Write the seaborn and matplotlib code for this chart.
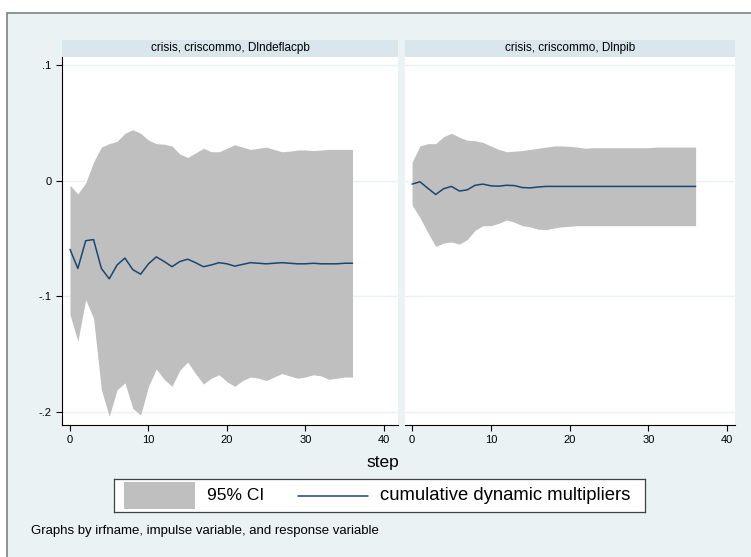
import numpy as np
import pandas as pd
import seaborn as sns
import matplotlib.pyplot as plt
from matplotlib.patches import Rectangle

steps = list(range(37))

defl_irf = [-0.0595, -0.076, -0.052, -0.051, -0.076, -0.085, -0.073, -0.067, -0.077, -0.081,
            -0.072, -0.066, -0.070, -0.0745, -0.070, -0.068, -0.071, -0.0745, -0.073, -0.071,
            -0.072, -0.074, -0.0725, -0.071, -0.0715, -0.072, -0.0715, -0.071, -0.0715, -0.072,
            -0.072, -0.0715, -0.072, -0.072, -0.072, -0.0715, -0.0715]
defl_upper = [-0.004, -0.0115, -0.002, 0.016, 0.029, 0.032, 0.034, 0.041, 0.044, 0.041,
              0.035, 0.032, 0.0315, 0.030, 0.023, 0.020, 0.024, 0.028, 0.025, 0.025,
              0.028, 0.031, 0.029, 0.027, 0.028, 0.029, 0.027, 0.025, 0.0255, 0.0265,
              0.0265, 0.026, 0.0265, 0.027, 0.027, 0.027, 0.027]
defl_lower = [-0.116, -0.139, -0.103, -0.119, -0.181, -0.204, -0.181, -0.175, -0.197, -0.203,
              -0.178, -0.163, -0.172, -0.178, -0.164, -0.157, -0.167, -0.176, -0.171, -0.168,
              -0.174, -0.178, -0.173, -0.170, -0.171, -0.173, -0.170, -0.167, -0.169, -0.171,
              -0.170, -0.168, -0.169, -0.172, -0.171, -0.170, -0.170]

pib_irf = [-0.003, -0.001, -0.0066, -0.012, -0.007, -0.005, -0.009, -0.008, -0.004, -0.003,
           -0.0045, -0.0048, -0.004, -0.0043, -0.006, -0.0063, -0.0055, -0.005, -0.005, -0.005,
           -0.005, -0.005, -0.005, -0.005, -0.005, -0.005, -0.005, -0.005, -0.005, -0.005,
           -0.005, -0.005, -0.005, -0.005, -0.005, -0.005, -0.005]
pib_upper = [0.016, 0.030, 0.032, 0.032, 0.038, 0.041, 0.0375, 0.035, 0.0345, 0.033,
             0.030, 0.027, 0.025, 0.0255, 0.026, 0.027, 0.028, 0.029, 0.030, 0.030,
             0.0297, 0.029, 0.028, 0.0285, 0.0285, 0.0285, 0.0285, 0.0285, 0.0285, 0.0285,
             0.0285, 0.029, 0.029, 0.029, 0.029, 0.029, 0.029]
pib_lower = [-0.021, -0.032, -0.045, -0.057, -0.054, -0.053, -0.055, -0.051, -0.043, -0.039,
             -0.039, -0.037, -0.034, -0.036, -0.039, -0.040, -0.042, -0.0425, -0.041, -0.040,
             -0.0395, -0.039, -0.039, -0.039, -0.039, -0.039, -0.039, -0.039, -0.039, -0.039,
             -0.039, -0.039, -0.039, -0.039, -0.039, -0.039, -0.039]

titles = ["crisis, criscommo, Dlndeflacpb", "crisis, criscommo, Dlnpib"]

sns.set_style("white")
plt.rcParams['font.family'] = ['Liberation Sans', 'DejaVu Sans']
plt.rcParams['text.color'] = 'black'
plt.rcParams['xtick.color'] = 'black'
plt.rcParams['ytick.color'] = 'black'

W, H = 751, 557
BG = "#eaf2f3"
STRIP = "#d9e6eb"
fig = plt.figure(figsize=(W / 100, H / 100), dpi=100)
fig.patch.set_facecolor("white")


def px(l, t, r, b):
    return [l / W, 1 - b / H, (r - l) / W, (b - t) / H]


# outer graph region
bax = fig.add_axes([0, 0, 1, 1], zorder=-5)
bax.set_xlim(0, W)
bax.set_ylim(H, 0)
bax.axis("off")
bax.add_patch(Rectangle((7, 13), W, H, facecolor=BG, edgecolor="#808080", lw=1.2))

panels = [
    (px(62, 57, 398, 425), px(62, 40, 398, 57), (-1.02, 41.8), defl_irf, defl_lower, defl_upper, True),
    (px(405, 57, 735, 425), px(405, 40, 735, 57), (-0.9, 41.0), pib_irf, pib_lower, pib_upper, False),
]

for i, (rect, srect, xlim, irf, lo, up, show_y) in enumerate(panels):
    ax = fig.add_axes(rect)
    ax.set_facecolor("white")
    df = pd.DataFrame({"step": steps, "irf": irf})
    ax.fill_between(steps, lo, up, color="#bfbfbf", lw=0, zorder=1)
    sns.lineplot(data=df, x="step", y="irf", ax=ax, color="#1a476f", lw=1.1, zorder=3)
    for yv in [0.1, 0, -0.1, -0.2]:
        ax.axhline(yv, color=BG, lw=1, zorder=0.5)
    ax.set_xlim(*xlim)
    ax.set_ylim(-0.2115, 0.107)
    ax.set_xticks([0, 10, 20, 30, 40])
    ax.set_yticks([-0.2, -0.1, 0, 0.1])
    ax.set_xlabel("")
    ax.set_ylabel("")
    for s in ["top", "right"]:
        ax.spines[s].set_visible(False)
    ax.spines["bottom"].set_color("black")
    ax.spines["bottom"].set_linewidth(0.8)
    if show_y:
        ax.spines["left"].set_color("black")
        ax.spines["left"].set_linewidth(0.8)
        ax.set_yticklabels(["-.2", "-.1", "0", ".1"], fontsize=8)
        ax.tick_params(axis="y", length=4, width=0.8, direction="out", left=True)
    else:
        ax.spines["left"].set_visible(False)
        ax.set_yticklabels([])
        ax.tick_params(axis="y", length=0)
    ax.tick_params(axis="x", length=4, width=0.8, direction="out", bottom=True, labelsize=8)

    sax = fig.add_axes(srect)
    sax.set_facecolor(STRIP)
    sax.set_xticks([])
    sax.set_yticks([])
    for s in sax.spines.values():
        s.set_visible(False)
    sax.text(0.5, 0.5, titles[i], ha="center", va="center", fontsize=8.5, transform=sax.transAxes)

fig.text(383 / W, 1 - 462 / H, "step", ha="center", va="center", fontsize=12.5)

# legend box
lax = fig.add_axes(px(114, 479, 645, 512))
lax.set_facecolor("white")
lax.set_xlim(0, 1)
lax.set_ylim(0, 1)
lax.set_xticks([])
lax.set_yticks([])
for s in lax.spines.values():
    s.set_color("#404040")
    s.set_linewidth(0.9)
lax.add_patch(Rectangle((0.018, 0.1), 0.135, 0.8, facecolor="#bfbfbf", lw=0))
lax.text(0.175, 0.5, "95% CI", va="center", fontsize=12.5)
lax.plot([0.347, 0.478], [0.5, 0.5], color="#1a476f", lw=1.1)
lax.text(0.50, 0.5, "cumulative dynamic multipliers", va="center", fontsize=13.3)

fig.text(31 / W, 1 - 531 / H, "Graphs by irfname, impulse variable, and response variable",
         ha="left", va="center", fontsize=9.5)

fig.savefig("out.png", dpi=100)
